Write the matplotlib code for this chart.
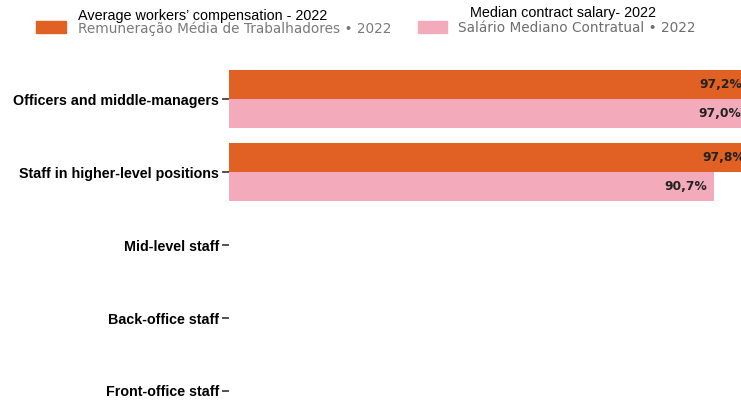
import matplotlib.pyplot as plt
import numpy as np

categories = ["Officers and middle-managers", "Staff in higher-level positions",
              "Mid-level staff", "Back-office staff", "Front-office staff"]
avg_comp = [97.2, 97.8, np.nan, np.nan, np.nan]
median_salary = [97.0, 90.7, np.nan, np.nan, np.nan]

label_avg_en = "Average workers\u2019 compensation - 2022"
label_med_en = "Median contract salary- 2022"
label_avg_pt = "Remunera\u00e7\u00e3o M\u00e9dia de Trabalhadores \u2022 2022"
label_med_pt = "Sal\u00e1rio Mediano Contratual \u2022 2022"

orange = "#E06123"
pink = "#F3ABBC"

W, H = 741, 400
fig = plt.figure(figsize=(W / 100, H / 100), dpi=100)
# plot area: left edge at 229 px, runs off the right side
ax = fig.add_axes([229 / W, 0, 1 - 229 / W, 350 / H])

y = np.arange(len(categories))
h = 0.4
ax.barh(y - h / 2, avg_comp, height=h, color=orange)
ax.barh(y + h / 2, median_salary, height=h, color=pink)

ax.set_xlim(0, 95.75)
ax.set_ylim((400 - 99) / 73, (50 - 99) / 73)

def pct(v):
    return f"{v:.1f}%".replace(".", ",")

for vals, off in [(avg_comp, -h / 2), (median_salary, h / 2)]:
    for i, v in enumerate(vals):
        if np.isnan(v):
            continue
        ax.annotate(pct(v), (v, i + off), xytext=(-7, 0), textcoords="offset pixels",
                    ha="right", va="center", fontsize=8.8, fontweight="bold",
                    family="DejaVu Sans", color="#222222", annotation_clip=False,
                    clip_on=True)

ax.set_yticks(y)
ax.set_yticklabels(categories, fontsize=10.3, fontweight="bold", family="Liberation Sans")
ax.tick_params(axis="y", length=5, width=1.1, pad=2, color="#222222")
ax.set_xticks([])
for s in ax.spines.values():
    s.set_visible(False)

# legend swatches with the Portuguese labels, English captions on top
fig.patches.append(plt.Rectangle((36 / W, 1 - 33 / H), 30 / W, 12 / H,
                                 transform=fig.transFigure, color=orange))
fig.patches.append(plt.Rectangle((418 / W, 1 - 33 / H), 29 / W, 12 / H,
                                 transform=fig.transFigure, color=pink))
fig.text(78 / W, 1 - 29 / H, label_avg_pt, fontsize=9.8, color="#7a7a7a",
         va="center", family="DejaVu Sans")
fig.text(458 / W, 1 - 28 / H, label_med_pt, fontsize=9.8, color="#6e6e6e",
         va="center", family="DejaVu Sans")
fig.text(78 / W, 1 - 16 / H, label_avg_en, fontsize=10.4, color="black",
         va="center", family="Liberation Sans")
fig.text(470 / W, 1 - 13 / H, label_med_en, fontsize=10.4, color="black",
         va="center", family="Liberation Sans")

fig.savefig("out.png", dpi=100)
